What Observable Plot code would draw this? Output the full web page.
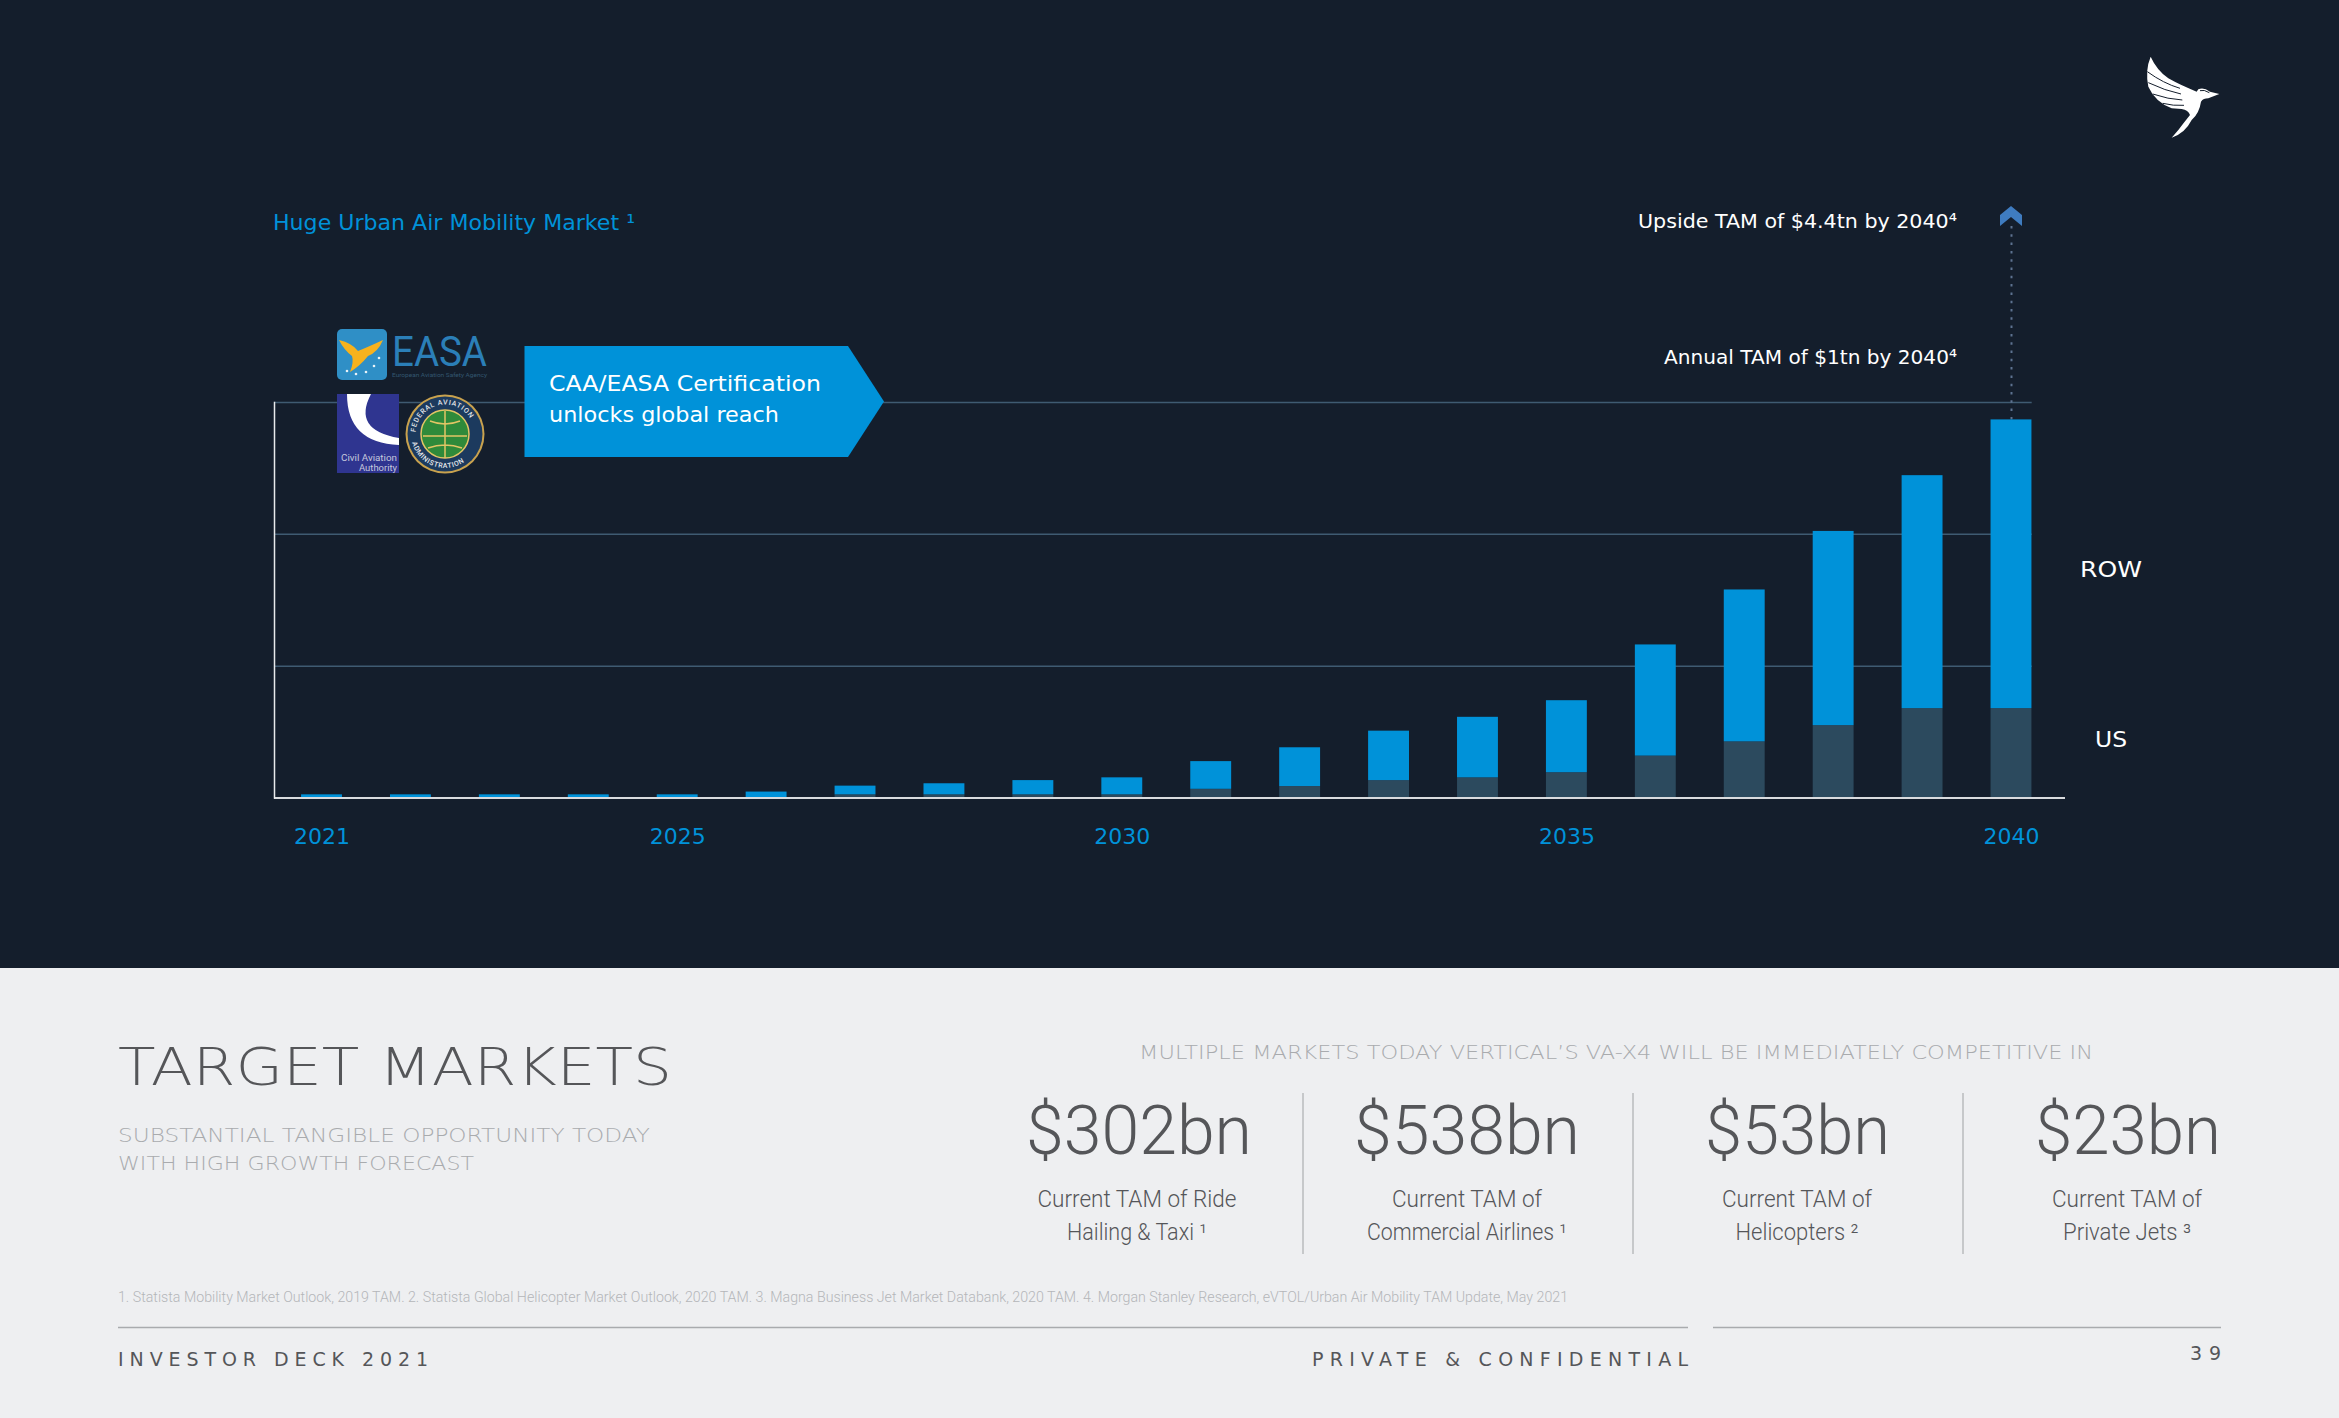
<!DOCTYPE html>
<html>
<head>
<meta charset="utf-8">
<script src="https://cdn.jsdelivr.net/npm/d3@7"></script>
<script src="https://cdn.jsdelivr.net/npm/@observablehq/plot@0.6"></script>
<style>
html,body{margin:0;padding:0;background:#141e2c;}
#stage{position:relative;width:2339px;height:1418px;overflow:hidden;background:#141e2c;font-family:Roboto,sans-serif;}
#panel{position:absolute;left:0;top:968px;width:2339px;height:450px;background:#eeeff1;}
#stage svg{position:absolute;left:0;top:0;}
</style>
</head>
<body>
<div id="stage"><div id="panel"></div></div>
<script>
const years = [2021,2022,2023,2024,2025,2026,2027,2028,2029,2030,2031,2032,2033,2034,2035,2036,2037,2038,2039,2040];
const usValues  = [1,1,1,1,1,1,8,8,8,8,22,29,44,51,64,106,142,183,226,226];
const rowValues = [7,7,7,7,7,14,22,28,36,43,70,98,125,153,182,281,384,491,589,730];
const gridLevels = [333.3,666.7,1000];
const yearTicks = [2021,2025,2030,2035,2040];
const kpiValues = ["$302bn","$538bn","$53bn","$23bn"];
const kpiLine1 = ["Current TAM of Ride","Current TAM of","Current TAM of","Current TAM of"];
const kpiLine2 = ["Hailing & Taxi ¹","Commercial Airlines ¹","Helicopters ²","Private Jets ³"];

const BG="#141e2c", BLUE="#0092d9", SLATE="#2c4a5e", GRID="#3f5b72";
const rows = years.flatMap((year,i)=>[
  {year,segment:"US",value:usValues[i]},
  {year,segment:"ROW",value:rowValues[i]}
]);

const chart = Plot.plot({
  width:2339,height:969,
  marginLeft:274,marginRight:274,marginTop:402,marginBottom:171.5,
  style:{background:"transparent",fontFamily:"'DejaVu Sans', sans-serif"},
  x:{type:"band",domain:years,range:[277.05,2055.45],paddingInner:0.54,paddingOuter:0.27,round:false},
  y:{domain:[0,1000],axis:null},
  color:{domain:["US","ROW"],range:[SLATE,BLUE]},
  marks:[
    Plot.ruleY(gridLevels,{stroke:GRID,strokeWidth:1.5,insetRight:33.3}),
    Plot.ruleX([2040],{y1:956,y2:1450,stroke:"#5d7290",strokeWidth:2,strokeDasharray:"2.5 5.8"}),
    Plot.barY(rows,{x:"year",y:"value",fill:"segment",order:["US","ROW"]}),
    Plot.ruleY([0],{stroke:"#d9dbde",strokeWidth:2}),
    Plot.frame({anchor:"left",stroke:"#e8eaec",strokeWidth:1.5}),
    Plot.axisX({ticks:yearTicks,tickSize:0,tickPadding:30,label:null,fill:BLUE,fontSize:22,tickFormat:d=>String(d)})
  ]
});
document.getElementById("stage").appendChild(chart);

// Overlay: headings, notes and logos
const NS="http://www.w3.org/2000/svg";
const ov=document.createElementNS(NS,"svg");
ov.setAttribute("width",2339);ov.setAttribute("height",1418);
document.getElementById("stage").appendChild(ov);
function el(tag,attrs,parent){const e=document.createElementNS(NS,tag);for(const k in attrs)e.setAttribute(k,attrs[k]);(parent||ov).appendChild(e);return e;}
const WIDE="'DejaVu Sans', sans-serif", SLIM="Roboto, sans-serif";
function txt(s,x,y,w,size,fill,weight,anchor,family){
  const a={x,y,"font-size":size,fill,"font-weight":weight||400,"font-family":family||SLIM};
  if(anchor)a["text-anchor"]=anchor;
  if(w){a.textLength=w;a.lengthAdjust="spacingAndGlyphs";}
  const t=el("text",a);t.textContent=s;return t;
}
// Callouts
txt("Huge Urban Air Mobility Market ¹",273,230,362,21,BLUE,400,null,WIDE);
txt("Upside TAM of $4.4tn by 2040⁴",1638,228,319,19.500,"#ffffff",400,null,WIDE);
txt("Annual TAM of $1tn by 2040⁴",1664,364,293,19.500,"#ffffff",400,null,WIDE);
txt("ROW",2080,577,62,21,"#ffffff",400,null,WIDE);
txt("US",2095,747,32,21,"#ffffff",400,null,WIDE);
el("path",{d:"M2000 226 V215 L2011 206 L2022 215 V226 L2011 217 Z",fill:"#3f7cc0"});
el("path",{d:"M524.5 346 H848 L884 401.5 L848 457 H524.5 Z",fill:BLUE});
txt("CAA/EASA Certification",549,391,272,21.500,"#ffffff",400,null,WIDE);
txt("unlocks global reach",549,422,230,21.500,"#ffffff",400,null,WIDE);
// EASA logo
el("rect",{x:337,y:329,width:50,height:51,rx:5,fill:"#2f8fc6"});
el("path",{d:"M339 340 Q352 343 358 351 Q368 347 383 340 Q378 352 368 356 Q360 366 350 372 Q354 362 352 356 Q344 350 339 340 Z",fill:"#f7b21d"});
[[347,371],[356,374],[366,372],[374,366],[379,358]].forEach(([cx,cy])=>el("circle",{cx,cy,r:1.3,fill:"#e8f2f8"}));
txt("EASA",392,366,95,42,"#2b7fb8",400);
txt("European Aviation Safety Agency",392,377,95,5,"#33566f");
// CAA logo
el("rect",{x:337,y:394,width:62,height:79,fill:"#2f3590"});
el("path",{d:"M347 394 Q347 443 399 445 V438 Q352 430 371 394 Z",fill:"#ffffff"});
txt("Civil Aviation",397,461,56,9,"#c6c8dd",400,"end");
txt("Authority",397,471,38,9,"#c6c8dd",400,"end");
// FAA logo
el("circle",{cx:445,cy:434,r:39.5,fill:"#c9a24e"});
el("circle",{cx:445,cy:434,r:37.5,fill:"#1c3a5e"});
el("circle",{cx:445,cy:434,r:24,fill:"#2f8a3a",stroke:"#e3c565","stroke-width":1.5});
el("path",{d:"M445 411 V458 M423 436 H467 M430 421 Q445 427 460 421 M428 448 Q445 442 462 448",stroke:"#e3c565","stroke-width":1.5,fill:"none"});
el("path",{id:"faaTop",d:"M415.500 434 A29.500 29.500 0 0 1 474.500 434",fill:"none"});
el("path",{id:"faaBot",d:"M411 434 A34 34 0 0 0 479 434",fill:"none"});
const t1=el("text",{"font-size":7,fill:"#e4e6ea","font-family":SLIM,"font-weight":500,"letter-spacing":"0.8"});
const tp1=el("textPath",{href:"#faaTop",startOffset:"2%"},t1);tp1.textContent="FEDERAL AVIATION";
const t2=el("text",{"font-size":7,fill:"#e4e6ea","font-family":SLIM,"font-weight":500,"letter-spacing":"0.6"});
const tp2=el("textPath",{href:"#faaBot",startOffset:"8%"},t2);tp2.textContent="ADMINISTRATION";
// Bird logo
const bird=el("g",{transform:"translate(2100,30) scale(0.3333)"});
el("path",{d:"M152 80 Q135 120 145 170 Q165 215 215 235 L245 237 Q265 240 270 255 Q250 280 235 300 L215 323 Q255 310 275 270 Q298 250 303 215 Q310 205 325 205 L358 192 L330 185 Q310 170 295 178 L290 185 Q240 165 205 145 Q170 120 152 80 Z",fill:"#ffffff"},bird);
el("path",{d:"M142 125 Q190 160 240 175 M145 158 Q195 182 243 192 M158 192 Q205 208 247 210 M188 220 Q220 228 252 226 M300 182 Q312 178 328 188",stroke:BG,"stroke-width":3,fill:"none"},bird);
// Lower panel
const DARK="#555659", MID="#a9abae";
txt("TARGET MARKETS",118,1085,554,51,DARK,200,null,WIDE);
txt("SUBSTANTIAL TANGIBLE OPPORTUNITY TODAY",118,1142,532,20,MID,200,null,WIDE);
txt("WITH HIGH GROWTH FORECAST",118,1170,356,20,MID,200,null,WIDE);
txt("MULTIPLE MARKETS TODAY VERTICAL’S VA-X4 WILL BE IMMEDIATELY COMPETITIVE IN",1139,1059,954,19,MID,200,null,WIDE);
const kpiBox=[[1026,226],[1354,226],[1705,185],[2035,186]];
const kpiMid=[1137,1467,1797,2127];
const w1=[199,150,150,150], w2=[140,200,123,128];
kpiValues.forEach((v,i)=>{
  txt(v,kpiBox[i][0],1154,kpiBox[i][1],68,DARK,300);
  txt(kpiLine1[i],kpiMid[i]-w1[i]/2,1207,w1[i],23,DARK,300);
  txt(kpiLine2[i],kpiMid[i]-w2[i]/2,1240,w2[i],23,DARK,300);
});
[1303,1633,1963].forEach(x=>el("path",{d:`M${x} 1093 V1254`,stroke:"#acaeb1","stroke-width":1.2}));
txt("1. Statista Mobility Market Outlook, 2019 TAM. 2. Statista Global Helicopter Market Outlook, 2020 TAM. 3. Magna Business Jet Market Databank, 2020 TAM. 4. Morgan Stanley Research, eVTOL/Urban Air Mobility TAM Update, May 2021",118,1302,1450,14,"#b4b6b9",300);
el("path",{d:"M118 1327.5 H1688 M1713 1327.5 H2221",stroke:"#a9abae","stroke-width":1.6});
function spaced(s,x,y,w,size){const t=txt(s,x,y,null,size,DARK,400,null,WIDE);t.setAttribute("textLength",w);t.setAttribute("lengthAdjust","spacing");return t;}
spaced("INVESTOR DECK 2021",118,1366,310,19);
spaced("PRIVATE & CONFIDENTIAL",1312,1366,376,19);
spaced("39",2190,1360,31,19);
</script>
</body>
</html>
